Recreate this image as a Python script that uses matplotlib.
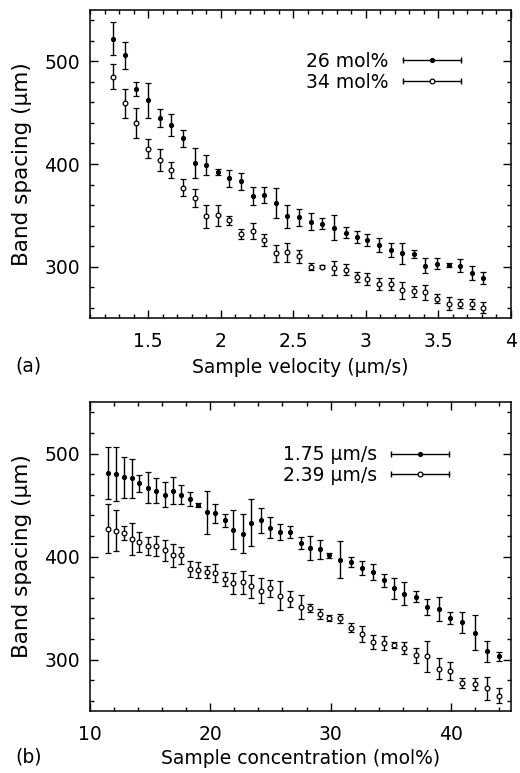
import matplotlib
matplotlib.use('Agg')
import matplotlib.pyplot as plt
from matplotlib.lines import Line2D
from matplotlib.legend_handler import HandlerBase
from matplotlib.ticker import MultipleLocator, FormatStrFormatter

# (a) band spacing against sample velocity
velocity = [1.26, 1.34, 1.42, 1.50, 1.58, 1.66, 1.74, 1.82, 1.90, 1.98, 2.06,
            2.14, 2.22, 2.30, 2.38, 2.46, 2.54, 2.62, 2.70, 2.78, 2.86, 2.94,
            3.01, 3.09, 3.17, 3.25, 3.33, 3.41, 3.49, 3.57, 3.65, 3.73, 3.81]
spacing_26 = [522, 506, 473, 462, 445, 438, 425, 401, 399, 392, 386,
              383, 369, 370, 362, 349, 348, 344, 342, 338, 333, 329,
              326, 321, 316, 313, 312, 301, 303, 302, 301, 294, 289]
err_26 = [16, 13, 7, 17, 9, 11, 8, 15, 10, 3, 8,
          8, 9, 8, 15, 11, 8.5, 8, 5, 12, 5.5, 6,
          6, 7, 7, 10, 4, 7.5, 5.5, 2, 6, 7, 6]
spacing_34 = [485, 459, 440, 415, 404, 394, 377, 367, 349, 350, 345,
              332, 335, 326, 313, 314, 310, 300, 300, 299, 297, 290,
              288, 283, 283, 277, 276, 275, 269, 264, 264, 264, 260]
err_34 = [12, 14, 15, 9.5, 10.5, 7.5, 8, 9, 11, 10, 4,
          5, 8, 6, 8, 9.5, 6.5, 3.5, 1.5, 7, 5.5, 5,
          6, 6, 5.5, 8, 5.5, 7, 4, 6, 4.5, 5, 5.5]
labels_a = ['26 mol%', '34 mol%']

# (b) band spacing against sample concentration
concentration = [11.5, 12.2, 12.8, 13.5, 14.1, 14.8, 15.5, 16.2, 16.9, 17.6,
                 18.3, 19.0, 19.7, 20.4, 21.2, 21.9, 22.7, 23.4, 24.2, 25.0,
                 25.8, 26.6, 27.5, 28.3, 29.1, 29.9, 30.8, 31.7, 32.6, 33.5,
                 34.4, 35.3, 36.1, 37.1, 38.0, 39.0, 39.9, 40.9, 42.0, 43.0, 44.0]
spacing_175 = [481, 480, 477, 476, 471, 467, 464, 460, 464, 460,
               456, 450, 443, 442, 435, 426, 422, 433, 435, 428,
               424, 424, 413, 408, 407, 401, 397, 395, 389, 385,
               377, 369, 364, 361, 351, 349, 340, 336, 326, 308, 303]
err_175 = [25, 26, 20, 19, 8, 15, 12, 12, 13, 9,
           7, 1.5, 21, 9, 6, 19, 19, 23, 12, 10,
           8, 6, 6, 11.5, 9, 2.5, 18, 5, 7, 7.5,
           6.5, 10, 11.5, 5.5, 8, 12, 6, 10, 17, 10, 4]
spacing_239 = [427, 425, 423, 417, 414, 410, 410, 406, 401, 401,
               388, 387, 385, 384, 378, 374, 375, 371, 367, 369,
               362, 359, 351, 350, 344, 340, 340, 331, 325, 317,
               316, 314, 311, 304, 303, 291, 289, 277, 276, 272, 265]
err_239 = [24, 20, 7, 16, 9.5, 9, 9.5, 10, 11, 8,
           8, 8, 6, 9, 7, 10, 11, 11, 12, 8,
           14, 8, 12, 4, 5, 3, 4.5, 4.5, 8, 7,
           7, 3, 6, 7, 15, 10, 9, 5, 6, 11, 7]
labels_b = ['1.75 µm/s', '2.39 µm/s']

FS = 13.5
plt.rcParams['font.family'] = ['DejaVu Sans']
plt.rcParams['font.size'] = FS


class KeyHandler(HandlerBase):
    # gnuplot style key: horizontal bar with end caps and the point in the middle
    def create_artists(self, legend, orig_handle, xdescent, ydescent,
                       width, height, fontsize, trans):
        y = height / 2 - ydescent
        x0, x1 = -xdescent, width - xdescent
        bar = Line2D([x0, x1], [y, y], color='black', lw=1.0,
                     marker='|', ms=5, mew=1.0)
        point = Line2D([(x0 + x1) / 2], [y], ls='none', marker='o',
                       ms=orig_handle.get_markersize(),
                       mfc=orig_handle.get_markerfacecolor(), mec='black', mew=0.9)
        bar.set_transform(trans)
        point.set_transform(trans)
        return [bar, point]


def draw_series(ax, x, y, err, face, size):
    ax.errorbar(x, y, yerr=err, fmt='o', ms=size, mfc=face, mec='black', mew=0.9,
                ecolor='black', elinewidth=1.0, capsize=1.9, capthick=1.0)


def style_axes(ax, xlim, major_x, minor_x):
    ax.set_xlim(*xlim)
    ax.set_ylim(250, 550)
    ax.xaxis.set_major_locator(MultipleLocator(major_x))
    ax.xaxis.set_minor_locator(MultipleLocator(minor_x))
    ax.xaxis.set_major_formatter(FormatStrFormatter('%g'))
    ax.yaxis.set_major_locator(MultipleLocator(100))
    ax.yaxis.set_minor_locator(MultipleLocator(20))
    ax.tick_params(which='both', direction='in', top=True, right=True, width=1.0)
    ax.tick_params(which='major', length=6)
    ax.tick_params(which='minor', length=3)
    ax.tick_params(axis='x', pad=10)
    ax.tick_params(axis='y', pad=7)
    for sp in ax.spines.values():
        sp.set_linewidth(1.1)
    ax.set_ylabel('Band spacing (µm)', fontsize=15.5)
    ax.yaxis.set_label_coords(-0.138, 0.5)


def add_key(ax, labels, anchor):
    handles = [Line2D([], [], marker='o', ms=2.8, mfc='black'),
               Line2D([], [], marker='o', ms=3.4, mfc='white')]
    ax.legend(handles, labels, handler_map={Line2D: KeyHandler()},
              loc='center right', bbox_to_anchor=anchor, frameon=False,
              markerfirst=False, handlelength=3.1, handletextpad=0.75,
              labelspacing=0.1, borderpad=0, borderaxespad=0, fontsize=FS)


fig = plt.figure(figsize=(5.2, 7.73), dpi=100)
ax_a = fig.add_axes([0.1731, 0.5886, 0.8096, 0.3984])
ax_b = fig.add_axes([0.1731, 0.0802, 0.8096, 0.3997])

draw_series(ax_a, velocity, spacing_26, err_26, 'black', 2.8)
draw_series(ax_a, velocity, spacing_34, err_34, 'white', 3.4)
style_axes(ax_a, (1.1, 4.0), 0.5, 0.1)
ax_a.set_xlabel('Sample velocity (µm/s)', labelpad=5)
add_key(ax_a, labels_a, (0.881, 0.80))

draw_series(ax_b, concentration, spacing_175, err_175, 'black', 2.8)
draw_series(ax_b, concentration, spacing_239, err_239, 'white', 3.4)
style_axes(ax_b, (10, 45), 10, 2)
ax_b.set_xlabel('Sample concentration (mol%)', labelpad=4)
add_key(ax_b, labels_b, (0.853, 0.796))

fig.text(0.029, 0.5265, '(a)', ha='left', va='center')
fig.text(0.029, 0.0207, '(b)', ha='left', va='center')

fig.savefig('out.png', dpi=100)
